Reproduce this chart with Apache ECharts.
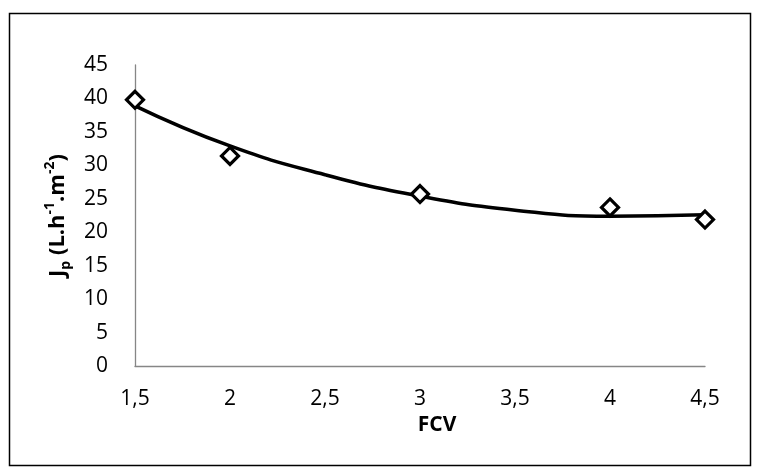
<!DOCTYPE html>
<html>
<head>
<meta charset="utf-8">
<script src="https://cdn.jsdelivr.net/npm/echarts@6/dist/echarts.min.js"></script>
<style>
html,body{margin:0;padding:0;background:#fff;}
#chart{width:757px;height:472px;}
</style>
</head>
<body>
<div id="chart"></div>
<script>
// Measured data points (FCV, Jp)
const fcv = [1.5, 2, 3, 4, 4.5];
const jp = [39.8, 31.4, 25.7, 23.7, 21.9];
// Trendline
const trendX = [1.5, 2, 2.5, 3, 3.5, 4, 4.5];
const trendY = [38.9, 32.9, 28.6, 25.4, 23.3, 22.4, 22.6];
// Axis ticks
const xTicks = [1.5, 2, 2.5, 3, 3.5, 4, 4.5];
const yMax = 45;

const chart = echarts.init(document.getElementById('chart'), null, {renderer: 'canvas'});
const fontFam = '"Open Sans", "Liberation Sans", sans-serif';
const fmt = v => String(v).replace('.', ',');

chart.setOption({
  animation: false,
  backgroundColor: '#fff',
  grid: {left: 135, right: 52, top: 65, bottom: 106, containLabel: false},
  xAxis: {
    type: 'value', min: 1.5, max: 4.5, interval: 0.5,
    axisLine: {show: true, lineStyle: {color: '#868686', width: 1.3}},
    axisTick: {show: false},
    splitLine: {show: false},
    axisLabel: {color: '#000', fontSize: 21, fontFamily: fontFam, margin: 23, formatter: fmt},
    name: 'FCV', nameLocation: 'middle', nameGap: 44,
    nameTextStyle: {color: '#000', fontSize: 21, fontWeight: 'bold', fontFamily: fontFam, padding: [0, 0, 0, 34]}
  },
  yAxis: {
    type: 'value', min: 0, max: yMax, interval: 5,
    axisLine: {show: true, lineStyle: {color: '#868686', width: 1.3}},
    axisTick: {show: false},
    splitLine: {show: false},
    axisLabel: {color: '#000', fontSize: 21, fontFamily: fontFam, margin: 27},
    name: '{b|J}{sub|p}{b| (L.h}{sup|-1}{b|.m}{sup|-2}{b|)}',
    nameLocation: 'middle', nameGap: 62, nameRotate: 90,
    nameTextStyle: {
      color: '#000', fontFamily: fontFam,
      rich: {
        b: {fontSize: 22, fontWeight: 'bold', fontFamily: fontFam, color: '#000', lineHeight: 30},
        sup: {fontSize: 14, fontWeight: 'bold', fontFamily: fontFam, color: '#000', verticalAlign: 'top', lineHeight: 16},
        sub: {fontSize: 14, fontWeight: 'bold', fontFamily: fontFam, color: '#000', verticalAlign: 'bottom', lineHeight: 16}
      }
    }
  },
  graphic: [{
    type: 'rect', shape: {x: 9.5, y: 13.5, width: 741, height: 452},
    style: {fill: null, stroke: '#000', lineWidth: 1.5}, silent: true, z: 100
  }],
  series: [
    {
      type: 'line', data: trendX.map((x, i) => [x, trendY[i]]),
      smooth: 0.5, showSymbol: false, symbol: 'none',
      lineStyle: {color: '#000', width: 3.5}, z: 2
    },
    {
      type: 'scatter', data: fcv.map((x, i) => [x, jp[i]]),
      symbol: 'diamond', symbolSize: 17,
      itemStyle: {color: '#fff', borderColor: '#000', borderWidth: 3.2, opacity: 1}, z: 3
    }
  ]
});
</script>
</body>
</html>
